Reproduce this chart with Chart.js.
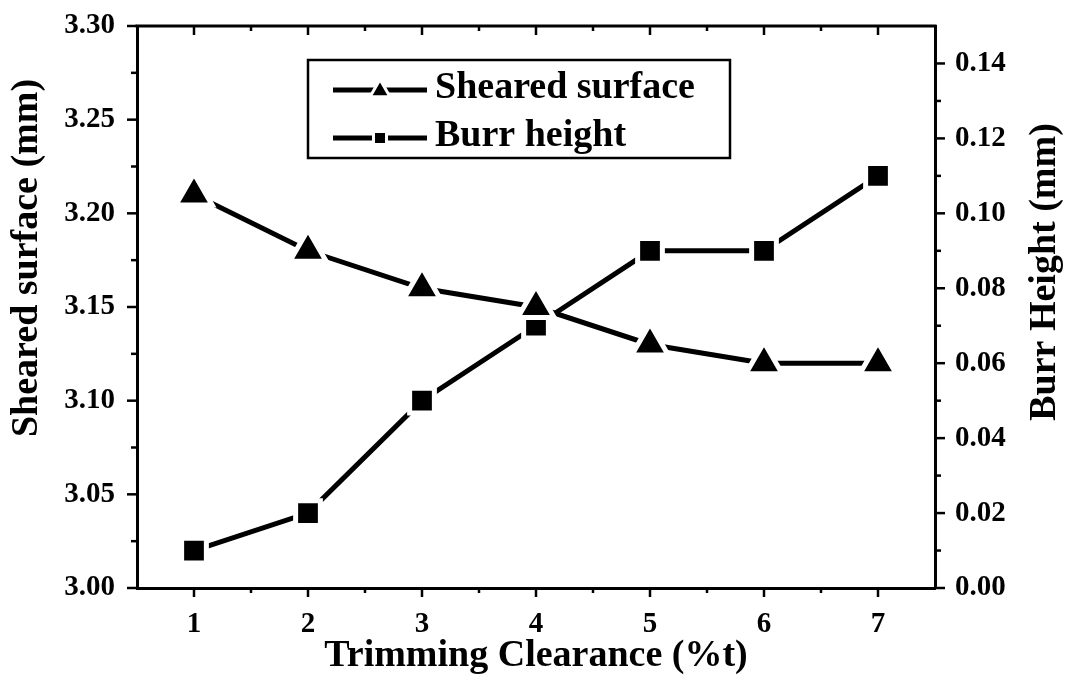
<!DOCTYPE html>
<html><head><meta charset="utf-8">
<script src="https://cdn.jsdelivr.net/npm/chart.js@4"></script>
<style>html,body{margin:0;padding:0;background:#fff;}#wrap{width:1065px;height:682px;}</style>
</head><body><div id="wrap"><canvas id="c" width="1065" height="682"></canvas></div>
<script>
const clearance = [1, 2, 3, 4, 5, 6, 7];
const shearedSurface = [3.21, 3.18, 3.16, 3.15, 3.13, 3.12, 3.12];
const burrHeight = [0.01, 0.02, 0.05, 0.07, 0.09, 0.09, 0.11];
const xTicks = [1, 2, 3, 4, 5, 6, 7];
const leftTicks = [3.00, 3.05, 3.10, 3.15, 3.20, 3.25, 3.30];
const rightTicks = [0.00, 0.02, 0.04, 0.06, 0.08, 0.10, 0.12, 0.14];
const seriesNames = ['Sheared surface', 'Burr height'];
const xTitle = 'Trimming Clearance (%t)';
const leftTitle = 'Sheared surface (mm)';
const rightTitle = 'Burr Height (mm)';

const FONT = '"Liberation Serif", "Times New Roman", serif';
const tickFont = {family: FONT, size: 29, weight: 'bold'};

function drawMarker(ctx, style, r, bw, x, y) {
  ctx.save();
  ctx.fillStyle = '#000';
  ctx.strokeStyle = '#fff';
  ctx.lineWidth = bw;
  ctx.beginPath();
  if (style === 'triangle') {
    let rad = 0;
    ctx.moveTo(x + Math.sin(rad) * r, y - Math.cos(rad) * r);
    rad += 2 * Math.PI / 3;
    ctx.lineTo(x + Math.sin(rad) * r, y - Math.cos(rad) * r);
    rad += 2 * Math.PI / 3;
    ctx.lineTo(x + Math.sin(rad) * r, y - Math.cos(rad) * r);
    ctx.closePath();
  } else {
    const s = Math.SQRT1_2 * r;
    ctx.rect(x - s, y - s, 2 * s, 2 * s);
  }
  ctx.fill();
  ctx.stroke();
  ctx.restore();
}

const framePlugin = {
  id: 'frameAndLegend',
  afterDraw(chart) {
    const {ctx, chartArea: a, scales} = chart;
    const sx = scales.x, sy = scales.y, sy2 = scales.y2;
    ctx.save();
    ctx.strokeStyle = '#000';
    ctx.lineCap = 'butt';
    const seg = (x1, y1, x2, y2) => { ctx.beginPath(); ctx.moveTo(x1, y1); ctx.lineTo(x2, y2); ctx.stroke(); };
    ctx.lineWidth = 3;
    seg(a.left - 1.5, a.top, a.right + 1.5, a.top);
    ctx.lineWidth = 2.5;
    xTicks.forEach(v => {
      const p = sx.getPixelForValue(v);
      seg(p, a.bottom, p, a.bottom + 9);
      seg(p, a.top, p, a.top + 9);
    });
    for (let i = 0; i < xTicks.length - 1; i++) {
      const p = sx.getPixelForValue((xTicks[i] + xTicks[i + 1]) / 2);
      seg(p, a.bottom, p, a.bottom + 5);
      seg(p, a.top, p, a.top + 5);
    }
    leftTicks.forEach(v => { const p = sy.getPixelForValue(v); seg(a.left - 10, p, a.left, p); });
    for (let i = 0; i < leftTicks.length - 1; i++) {
      const p = sy.getPixelForValue((leftTicks[i] + leftTicks[i + 1]) / 2);
      seg(a.left - 6, p, a.left, p);
    }
    rightTicks.forEach(v => { const p = sy2.getPixelForValue(v); seg(a.right, p, a.right + 10, p); });
    for (let i = 0; i < rightTicks.length - 1; i++) {
      const p = sy2.getPixelForValue((rightTicks[i] + rightTicks[i + 1]) / 2);
      seg(a.right, p, a.right + 6, p);
    }
    ctx.fillStyle = '#000';
    ctx.font = 'bold 38px ' + FONT;
    ctx.textAlign = 'center';
    ctx.textBaseline = 'middle';
    ctx.save(); ctx.translate(27, 258); ctx.rotate(-Math.PI / 2); ctx.fillText(leftTitle, 0, 0); ctx.restore();
    ctx.save(); ctx.translate(1045, 272); ctx.rotate(-Math.PI / 2); ctx.fillText(rightTitle, 0, 0); ctx.restore();

    const bx = 308, by = 60, bw = 422, bh = 98;
    ctx.fillStyle = '#fff';
    ctx.fillRect(bx, by, bw, bh);
    ctx.lineWidth = 2.5;
    ctx.strokeRect(bx, by, bw, bh);
    const rows = [88, 136];
    chart.data.datasets.forEach((ds, i) => {
      const yy = rows[i];
      ctx.strokeStyle = '#000';
      ctx.lineWidth = 5;
      seg(333, yy + 2, 427, yy + 2);
      if (ds.pointStyle === 'triangle') drawMarker(ctx, 'triangle', 11.5, 3, 380, yy + 3);
      else drawMarker(ctx, 'rect', 9.2, 3, 380, yy + 2);
      ctx.fillStyle = '#000';
      ctx.font = 'bold 38px ' + FONT;
      ctx.textAlign = 'left';
      ctx.textBaseline = 'middle';
      ctx.fillText(ds.label, 435, yy);
    });
    ctx.restore();
  }
};

new Chart(document.getElementById('c'), {
  type: 'line',
  data: {
    datasets: [
      {
        label: seriesNames[0],
        data: clearance.map((c, i) => ({x: c, y: shearedSurface[i]})),
        yAxisID: 'y',
        borderColor: '#000', borderWidth: 5, tension: 0,
        pointStyle: 'triangle', pointRadius: 21,
        pointBackgroundColor: '#000', pointBorderColor: '#fff', pointBorderWidth: 5
      },
      {
        label: seriesNames[1],
        data: clearance.map((c, i) => ({x: c, y: burrHeight[i]})),
        yAxisID: 'y2',
        borderColor: '#000', borderWidth: 5, tension: 0,
        pointStyle: 'rect', pointRadius: 17.5,
        pointBackgroundColor: '#000', pointBorderColor: '#fff', pointBorderWidth: 5
      }
    ]
  },
  options: {
    responsive: false,
    animation: false,
    devicePixelRatio: 1,
    clip: false,
    layout: {padding: {top: 25, left: 0, right: 0, bottom: 0}},
    plugins: {legend: {display: false}, tooltip: {enabled: false}},
    scales: {
      x: {
        type: 'linear', position: 'bottom', min: 0.5, max: 7.5,
        afterBuildTicks: s => { s.ticks = xTicks.map(v => ({value: v})); },
        afterFit: s => { s.height = 94; s.paddingLeft = 0; s.paddingRight = 0; },
        ticks: {font: tickFont, color: '#000', padding: 19, maxRotation: 0, callback: v => String(v)},
        grid: {display: false, drawTicks: false},
        border: {display: true, color: '#000', width: 3},
        title: {display: true, text: xTitle, color: '#000', font: {family: FONT, size: 38, weight: 'bold'}, padding: {top: 0, bottom: 3}}
      },
      y: {
        type: 'linear', position: 'left', min: 3.0, max: 3.3,
        afterBuildTicks: s => { s.ticks = leftTicks.map(v => ({value: v})); },
        afterFit: s => { s.width = 137; s.paddingTop = 0; s.paddingBottom = 0; },
        ticks: {font: tickFont, color: '#000', padding: 22, callback: v => Number(v).toFixed(2)},
        grid: {display: false, drawTicks: false},
        border: {display: true, color: '#000', width: 3}
      },
      y2: {
        type: 'linear', position: 'right', min: 0, max: 0.15,
        afterBuildTicks: s => { s.ticks = rightTicks.map(v => ({value: v})); },
        afterFit: s => { s.width = 130; s.paddingTop = 0; s.paddingBottom = 0; },
        ticks: {font: tickFont, color: '#000', padding: 20, callback: v => Number(v).toFixed(2)},
        grid: {display: false, drawTicks: false},
        border: {display: true, color: '#000', width: 3}
      }
    }
  },
  plugins: [framePlugin]
});
</script>
</body></html>
